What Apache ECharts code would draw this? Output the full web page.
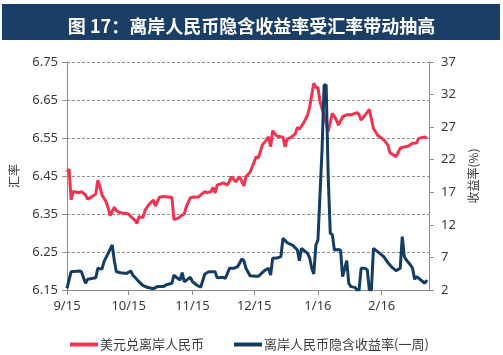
<!DOCTYPE html>
<html>
<head>
<meta charset="utf-8">
<script src="https://cdn.jsdelivr.net/npm/echarts@6/dist/echarts.min.js"></script>
<style>
html,body{margin:0;padding:0;background:#fff;}
#chart{width:503px;height:355px;}
</style>
</head>
<body>
<div id="chart"></div>
<script>
const titleText = '图 17：离岸人民币隐含收益率受汇率带动抽高';
const seriesNames = ['美元兑离岸人民币', '离岸人民币隐含收益率(一周)'];
const axisNames = ['汇率', '收益率(%)'];
const startDay = '2015-09-01';
const endDay = '2016-02-24';

const redDates = ['2015-09-01','2015-09-02','2015-09-03','2015-09-04','2015-09-07','2015-09-08','2015-09-10','2015-09-11','2015-09-13','2015-09-15','2015-09-16','2015-09-17','2015-09-18','2015-09-20','2015-09-21','2015-09-22','2015-09-24','2015-09-25','2015-09-27','2015-09-29',
'2015-10-01','2015-10-02','2015-10-04','2015-10-05','2015-10-06','2015-10-08','2015-10-09','2015-10-11','2015-10-13','2015-10-14','2015-10-16','2015-10-18','2015-10-20','2015-10-22','2015-10-23','2015-10-25','2015-10-27','2015-10-28','2015-10-29','2015-10-31',
'2015-11-02','2015-11-04','2015-11-05','2015-11-07','2015-11-08','2015-11-10','2015-11-11','2015-11-12','2015-11-13','2015-11-15','2015-11-16','2015-11-18','2015-11-20','2015-11-22','2015-11-24','2015-11-26','2015-11-27','2015-11-29',
'2015-12-02','2015-12-03','2015-12-05','2015-12-07','2015-12-08','2015-12-09','2015-12-10','2015-12-12','2015-12-15','2015-12-16','2015-12-17','2015-12-19','2015-12-21','2015-12-22','2015-12-23','2015-12-25','2015-12-27','2015-12-28','2015-12-30','2015-12-31',
'2016-01-01','2016-01-02','2016-01-05','2016-01-06','2016-01-08','2016-01-10','2016-01-11','2016-01-13','2016-01-15','2016-01-17','2016-01-20','2016-01-21','2016-01-22','2016-01-24','2016-01-26','2016-01-28','2016-01-30',
'2016-02-02','2016-02-04','2016-02-05','2016-02-08','2016-02-10','2016-02-11','2016-02-14','2016-02-16','2016-02-18','2016-02-19','2016-02-22','2016-02-23'];
const redValues = [6.461,6.468,6.387,6.409,6.406,6.409,6.400,6.389,6.395,6.403,6.439,6.422,6.400,6.382,6.366,6.346,6.368,6.358,6.353,6.352,
6.350,6.343,6.334,6.325,6.343,6.341,6.360,6.376,6.387,6.371,6.395,6.396,6.395,6.394,6.335,6.339,6.347,6.350,6.369,6.393,
6.395,6.395,6.400,6.409,6.406,6.409,6.420,6.405,6.426,6.430,6.432,6.426,6.448,6.435,6.448,6.424,6.448,6.460,
6.501,6.497,6.532,6.545,6.553,6.527,6.569,6.555,6.552,6.527,6.547,6.552,6.561,6.578,6.573,6.589,6.611,6.632,6.694,6.683,
6.683,6.646,6.589,6.567,6.615,6.597,6.584,6.606,6.611,6.611,6.617,6.612,6.597,6.611,6.625,6.575,6.558,
6.545,6.532,6.511,6.501,6.523,6.525,6.529,6.536,6.537,6.549,6.553,6.549];

const blueDates = ['2015-09-01','2015-09-03','2015-09-07','2015-09-08','2015-09-10','2015-09-11','2015-09-15','2015-09-16','2015-09-18','2015-09-19','2015-09-21','2015-09-23','2015-09-24','2015-09-25','2015-09-27','2015-09-30',
'2015-10-02','2015-10-03','2015-10-06','2015-10-08','2015-10-10','2015-10-13','2015-10-15','2015-10-18','2015-10-19','2015-10-22','2015-10-23','2015-10-24','2015-10-26','2015-10-27','2015-10-28','2015-10-31',
'2015-11-01','2015-11-03','2015-11-05','2015-11-07','2015-11-09','2015-11-12','2015-11-13','2015-11-16','2015-11-17','2015-11-19','2015-11-21','2015-11-23','2015-11-25','2015-11-26','2015-11-27','2015-11-29',
'2015-12-02','2015-12-03','2015-12-06','2015-12-08','2015-12-09','2015-12-10','2015-12-12','2015-12-14','2015-12-15','2015-12-17','2015-12-18','2015-12-20','2015-12-22','2015-12-23','2015-12-24','2015-12-27','2015-12-28','2015-12-29','2015-12-30','2015-12-31',
'2016-01-01','2016-01-03','2016-01-04','2016-01-05','2016-01-06','2016-01-07','2016-01-08','2016-01-09','2016-01-11','2016-01-12','2016-01-13','2016-01-15','2016-01-16','2016-01-17','2016-01-19','2016-01-20','2016-01-21','2016-01-22','2016-01-24','2016-01-25','2016-01-26','2016-01-27','2016-01-28','2016-01-30',
'2016-02-02','2016-02-04','2016-02-06','2016-02-08','2016-02-10','2016-02-11','2016-02-12','2016-02-13','2016-02-15','2016-02-16','2016-02-17','2016-02-18','2016-02-20','2016-02-22','2016-02-23'];
const blueValues = [2.26,4.81,4.92,4.81,3.03,3.64,3.89,5.33,5.2,6.35,7.63,8.91,6.50,4.81,4.66,4.55,
4.92,4.30,3.28,2.67,2.42,2.20,2.52,2.52,2.77,3.03,4.30,4.0,3.54,4.66,3.28,3.95,
3.3,2.77,2.42,4.46,4.81,4.81,3.89,3.95,3.79,5.33,5.33,5.6,6.76,6.5,5.33,4.2,
4.1,4.1,4.97,5.33,4.30,6.87,6.9,7.12,9.94,9.27,9.1,8.80,8.14,6.50,8.40,7.63,6.87,5.33,4.46,8.91,
9.68,23.5,33.47,33.47,19.4,10.7,10.5,8.14,8.2,8.14,4.05,6.50,3.03,2.52,2.4,2.0,2.0,5.33,5.33,5.07,2.0,2.0,8.40,7.89,
7.12,6.19,5.48,4.97,5.33,10.2,7.12,6.61,5.84,5.33,3.64,4.05,3.54,3.03,3.54];

// calendar-day categories for the x axis
const days = [];
for (let t = Date.parse(startDay + 'T00:00:00Z'); t <= Date.parse(endDay + 'T00:00:00Z'); t += 86400000) {
  days.push(new Date(t).toISOString().slice(0, 10));
}
const isMonthStart = (i, v) => v.slice(8) === '01';

const redData = redDates.map((d, i) => [d, redValues[i]]);
const blueData = blueDates.map((d, i) => [d, blueValues[i]]);

const numFont = 'Noto Sans';
const cjkFont = '"Noto Sans CJK SC"';
const axisGray = '#8c8c8c';
const textColor = '#3a3a3a';

const chart = echarts.init(document.getElementById('chart'), null, {renderer: 'canvas'});
chart.setOption({
  backgroundColor: '#ffffff',
  animation: false,
  graphic: [{
    type: 'rect', left: 2, top: 4, shape: {width: 498, height: 36},
    style: {fill: '#1a3e66'}, z: 0
  }],
  title: {
    text: titleText, left: 'center', top: 12,
    textStyle: {color: '#ffffff', fontSize: 18, fontWeight: 'bold', fontFamily: cjkFont}
  },
  legend: {
    left: 65, top: 333, itemWidth: 28, itemHeight: 4, itemGap: 30, icon: 'rect',
    textStyle: {fontSize: 13, color: textColor, fontFamily: cjkFont, padding: [0, 0, 0, -3]},
    data: seriesNames
  },
  grid: {left: 65, right: 74, top: 62, bottom: 65, containLabel: false},
  xAxis: {
    type: 'category', data: days, boundaryGap: false,
    axisLine: {lineStyle: {color: axisGray, width: 1}},
    axisTick: {show: true, interval: isMonthStart, length: 5, lineStyle: {color: axisGray}},
    axisLabel: {
      interval: isMonthStart, margin: 10, color: textColor, fontSize: 13, fontFamily: numFont,
      formatter: v => (+v.slice(5, 7)) + '/' + v.slice(2, 4)
    },
    splitLine: {show: false}
  },
  yAxis: [{
    type: 'value', min: 6.15, max: 6.75, interval: 0.1,
    name: axisNames[0], nameLocation: 'middle', nameRotate: 90, nameGap: 47,
    nameTextStyle: {fontSize: 12, color: textColor, fontFamily: cjkFont},
    axisLine: {show: true, lineStyle: {color: axisGray}},
    axisTick: {show: true, length: 5, lineStyle: {color: axisGray}},
    axisLabel: {margin: 9, color: textColor, fontSize: 13, fontFamily: numFont, formatter: v => v.toFixed(2)},
    splitLine: {show: true, lineStyle: {color: '#8f8f8f', type: [3, 2], width: 1}}
  }, {
    type: 'value', min: 2, max: 37, interval: 5, position: 'right',
    name: axisNames[1], nameLocation: 'middle', nameRotate: 90, nameGap: 38,
    nameTextStyle: {fontSize: 12, color: textColor, fontFamily: cjkFont},
    axisLine: {show: true, lineStyle: {color: axisGray}},
    axisTick: {show: true, length: 5, lineStyle: {color: axisGray}},
    axisLabel: {margin: 12, color: textColor, fontSize: 13, fontFamily: numFont},
    splitLine: {show: false}
  }],
  series: [{
    name: seriesNames[0], type: 'line', yAxisIndex: 0, data: redData,
    showSymbol: false, symbol: 'none',
    lineStyle: {color: '#ef3452', width: 3}, itemStyle: {color: '#ef3452'}
  }, {
    name: seriesNames[1], type: 'line', yAxisIndex: 1, data: blueData,
    showSymbol: false, symbol: 'none',
    lineStyle: {color: '#143d64', width: 3}, itemStyle: {color: '#143d64'}
  }]
});
</script>
</body>
</html>
